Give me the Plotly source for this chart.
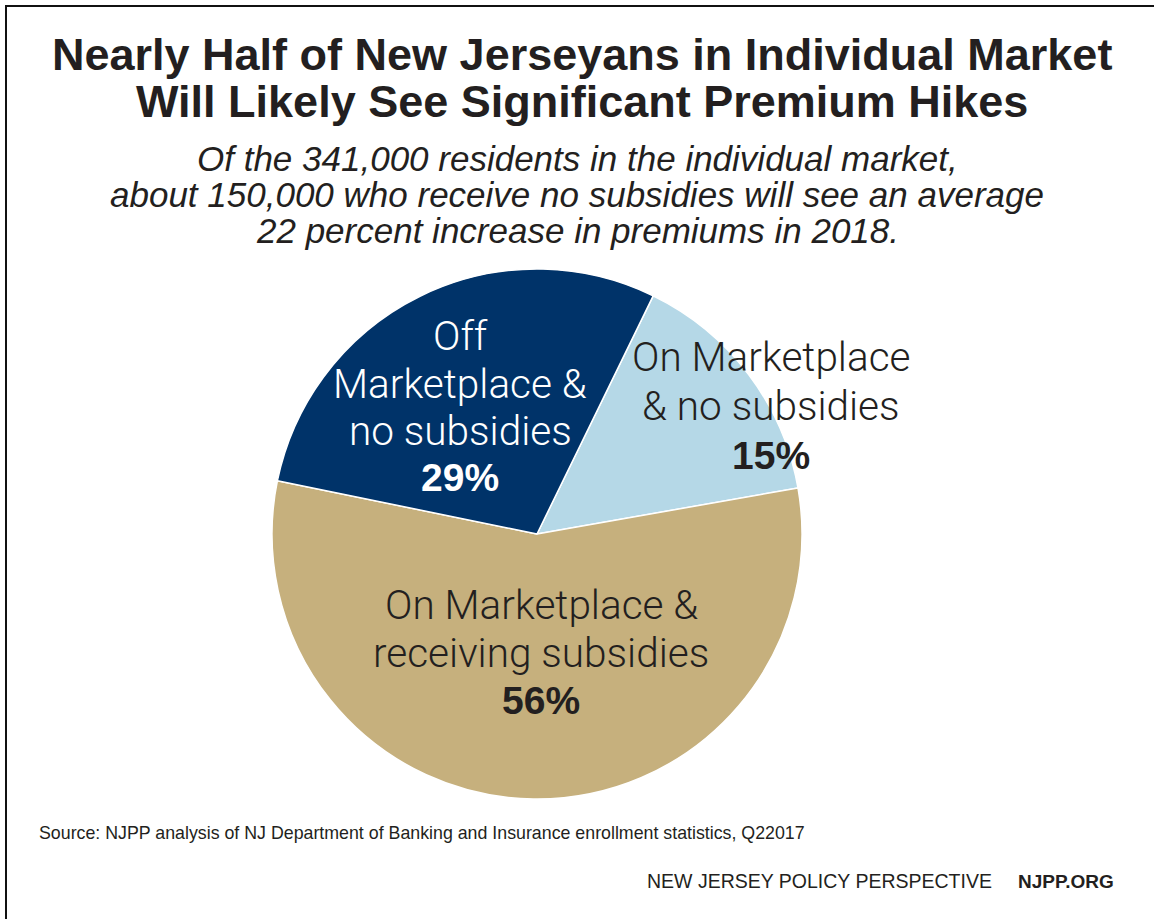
import plotly.graph_objects as go

W, H = 1154, 919

# ---- data ----
segments = ["On Marketplace & no subsidies", "On Marketplace & receiving subsidies", "Off Marketplace & no subsidies"]
shares = [15, 56, 29]
colors = ["#b5d8e7", "#c6b07d", "#003369"]

title_lines = ["Nearly Half of New Jerseyans in Individual Market",
               "Will Likely See Significant Premium Hikes"]
subtitle_lines = ["Of the 341,000 residents in the individual market,",
                  "about 150,000 who receive no subsidies will see an average",
                  "22 percent increase in premiums in 2018."]
label_lines = {
    "Off Marketplace & no subsidies": ["Off", "Marketplace &", "no subsidies"],
    "On Marketplace & no subsidies": ["On Marketplace", "& no subsidies"],
    "On Marketplace & receiving subsidies": ["On Marketplace &", "receiving subsidies"],
}
source_text = "Source: NJPP analysis of NJ Department of Banking and Insurance enrollment statistics, Q22017"
footer_left = "NEW JERSEY POLICY PERSPECTIVE"
footer_right = "NJPP.ORG"

DARK = "#231f20"
SANS = "Liberation Sans, Arial, Helvetica, sans-serif"
LIGHT = "Roboto, Liberation Sans, Arial, sans-serif"


def px(x):
    return x / W


def py(y):
    return 1 - y / H


fig = go.Figure(go.Pie(
    labels=segments,
    values=shares,
    sort=False,
    direction="clockwise",
    rotation=26,
    marker=dict(colors=colors, line=dict(color="white", width=1.5)),
    textinfo="none",
    hoverinfo="label+percent",
    domain=dict(x=[px(272), px(802)], y=[py(800), py(268)]),
    showlegend=False,
))

ann = []


def add_text(text, x, y, size, color=DARK, family=SANS, weight=None, italic=False, xanchor="center"):
    f = dict(size=size, color=color, family=family)
    if weight is not None:
        f["weight"] = weight
    if italic:
        f["style"] = "italic"
    ann.append(dict(text=text, x=px(x), y=py(y), xref="paper", yref="paper",
                    xanchor=xanchor, yanchor="middle", showarrow=False, font=f))


# title
for line, yc in zip(title_lines, [55, 101]):
    add_text(line, 582, yc, 45, weight=700)

# subtitle
for line, yc in zip(subtitle_lines, [158, 194, 231]):
    add_text(line, 577, yc, 35, italic=True)

# slice labels
label_pos = {
    "Off Marketplace & no subsidies": (460, [336, 384, 431], 477, "white"),
    "On Marketplace & no subsidies": (771, [357, 406], 455, DARK),
    "On Marketplace & receiving subsidies": (541, [605, 653], 700, DARK),
}
for seg, val in zip(segments, shares):
    x, ys, yp, col = label_pos[seg]
    for line, yc in zip(label_lines[seg], ys):
        add_text(line, x, yc, 40.5, color=col, family=LIGHT, weight=300)
    add_text(f"{val}%", x, yp, 39, color=col, weight=700)

# source / footer
add_text(source_text, 37, 833, 17.8, xanchor="left")
add_text(footer_left, 645, 881, 19.5, xanchor="left")
add_text(footer_right, 1116, 881, 19, weight=700, xanchor="right")

fig.update_layout(
    width=W, height=H,
    margin=dict(l=0, r=0, t=0, b=0),
    paper_bgcolor="white",
    plot_bgcolor="white",
    annotations=ann,
    shapes=[
        dict(type="line", xref="paper", yref="paper", x0=px(6), x1=px(6), y0=0, y1=py(6),
             line=dict(color="#111", width=2)),
        dict(type="line", xref="paper", yref="paper", x0=px(5), x1=1, y0=py(6), y1=py(6),
             line=dict(color="#111", width=2)),
    ],
)

fig.write_html("out.html")
